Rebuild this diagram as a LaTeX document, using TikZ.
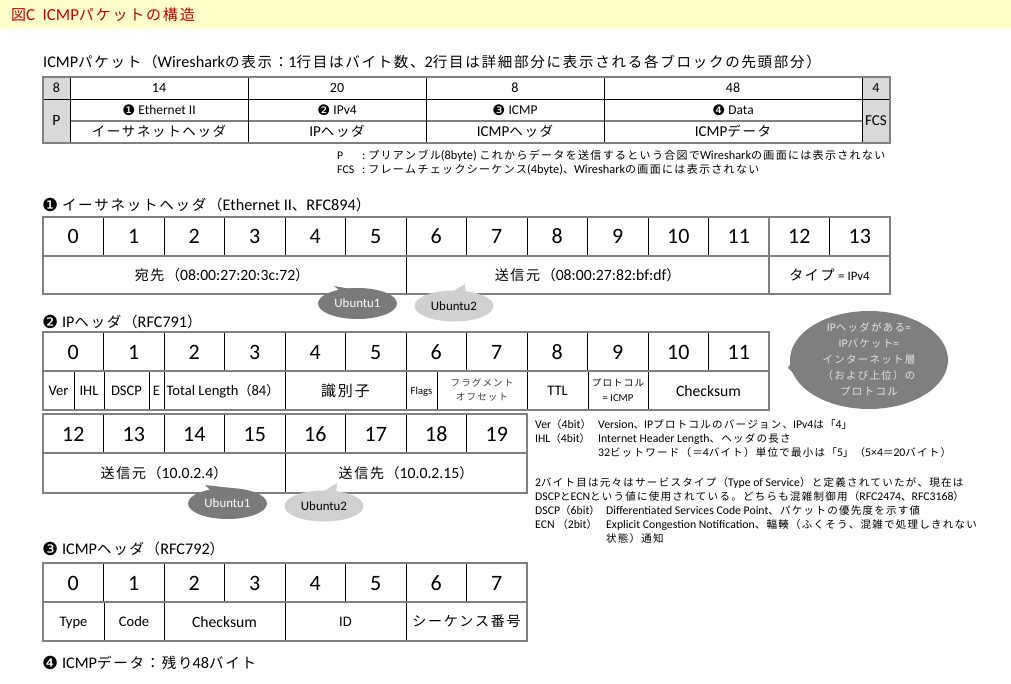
\documentclass[tikz,border=0pt]{standalone}
\usepackage{fontspec}
\usetikzlibrary{shapes.geometric}
\setmainfont[Scale=1.12]{Carlito}
\newfontfamily\cjk{Noto Sans CJK JP}
\newfontfamily\lat[Scale=1.12]{Carlito}
\newfontfamily\dv{DejaVu Sans}
\newXeTeXintercharclass\cjkcls
\newcount\mycnt
\def\setcls#1#2{\mycnt=#1 \loop\XeTeXcharclass\mycnt=\cjkcls \advance\mycnt by 1 \ifnum\mycnt<#2 \repeat}
\setcls{"3000}{"3100}
\setcls{"4E00}{"A000}
\setcls{"FF00}{"FFF0}
\def\cjktrack{0.12em}
\XeTeXinterchartoks 0 \cjkcls = {\cjk}
\XeTeXinterchartoks 4095 \cjkcls = {\cjk}
\XeTeXinterchartoks \cjkcls 0 = {\lat}
\XeTeXinterchartoks \cjkcls 4095 = {\lat}
\XeTeXinterchartoks \cjkcls \cjkcls = {\kern\cjktrack}
\XeTeXinterchartokenstate=1
\newcommand\fsz[1]{\fontsize{#1}{#1}\selectfont}
\newcommand\fszb[2]{\fontsize{#1}{#2}\selectfont}
\newcommand\cnum[2]{{\dv\fontsize{#2}{#2}\selectfont\raisebox{-0.06em}{#1}}}
\definecolor{titlebg}{HTML}{FFFFCC}
\definecolor{titlered}{HTML}{C00000}
\definecolor{cellgray}{HTML}{D9D9D9}
\definecolor{linegray}{HTML}{808080}
\definecolor{bubdark}{HTML}{7A7A7A}
\definecolor{bublight}{HTML}{D0D0D0}
\definecolor{bubbig}{HTML}{7F7F7F}
\definecolor{softtxt}{HTML}{404040}
\tikzset{
  lbl/.style={inner sep=0pt, anchor=west},
  ctr/.style={inner sep=0pt, anchor=center},
  tx/.style n args={3}{inner sep=0pt, anchor=center, font=\fsz{#1}, text height=#2pt, text depth=#3pt},
  inner/.style={draw=black, line width=0.8pt},
  grayline/.style={draw=linegray, line width=1.4pt},
  outer/.style={draw=linegray, line width=1.4pt},
  bignum/.style={tx={19.6}{14}{0}},
  head/.style={inner sep=0pt, anchor=base west, font=\fsz{14.5}},
  note/.style={lbl, font=\fsz{10.5}},
  cell/.style={tx={14}{12}{1.7}},
  lcell/.style={tx={13}{11.2}{1.6}},
  ubu/.style={ellipse, inner sep=0pt, minimum width=79pt, minimum height=31pt, font=\fsz{11.5}, text height=9.9pt, text depth=1.4pt},
}
\begin{document}
\begin{tikzpicture}[x=1pt,y=-1pt]
\useasboundingbox (0,0) rectangle (1011,684);
\fill[white] (0,0) rectangle (1011,684);
% title
\fill[titlebg] (0,0) rectangle (1011,29);
\node[lbl, text=titlered, font=\fsz{15}] (title) at (11,14.5) {図C\ \ ICMPパケットの構造};
\node[head] (sub) at (43,67.5) {ICMPパケット（Wiresharkの表示：1行目はバイト数、2行目は詳細部分に表示される各ブロックの先頭部分）};

% ---------- overview table
\fill[cellgray] (43,77) rectangle (70,143);
\fill[cellgray] (862,77) rectangle (890,143);
\draw[inner] (43,99) -- (890,99);
\draw[grayline] (70,121) -- (862,121);
\foreach \x in {70,248,426,604,862} \draw[inner] (\x,77) -- (\x,143);
\draw[outer] (43,77) rectangle (890,143);
\node[tx={12.5}{9}{0}] (o1) at (56.5,88.5) {8};
\node[tx={12.5}{9}{0}] (o2) at (159,88.5) {14};
\node[tx={12.5}{9}{0}] (o3) at (337,88.5) {20};
\node[tx={12.5}{9}{0}] (o4) at (515,88.5) {8};
\node[tx={12.5}{9}{0}] (o5) at (733,88.5) {48};
\node[tx={12.5}{9}{0}] (o6) at (876,88.5) {4};
\node[tx={12}{10.3}{1.4}] (o7) at (159,110) {\cnum{❶}{14.5} Ethernet II};
\node[tx={12}{10.3}{1.4}] (o8) at (337,110) {\cnum{❷}{14.5} IPv4};
\node[tx={12}{10.3}{1.4}] (o9) at (515,110) {\cnum{❸}{14.5} ICMP};
\node[tx={12}{10.3}{1.4}] (o10) at (733,110) {\cnum{❹}{14.5} Data};
\node[tx={13.5}{11.6}{1.6}] (o11) at (159,132) {イーサネットヘッダ};
\node[tx={13.5}{11.6}{1.6}] (o12) at (337,132) {IPヘッダ};
\node[tx={13.5}{11.6}{1.6}] (o13) at (515,132) {ICMPヘッダ};
\node[tx={13.5}{11.6}{1.6}] (o14) at (733,132) {ICMPデータ};
\node[tx={14}{10}{0}] (o15) at (56.5,121) {P};
\node[tx={13.5}{9.8}{0}] (o16) at (876,121) {FCS};
\node[lbl, font=\fsz{10.5}] (np) at (337,155.5) {P};
\node[lbl, font=\fsz{11}] (npt) at (362,155.5) {:\ プリアンブル(8byte) これからデータを送信するという合図でWiresharkの画面には表示されない};
\node[lbl, font=\fsz{10.5}] (nf) at (337,170) {FCS};
\node[lbl, font=\fsz{11}] (nft) at (362,170) {:\ フレームチェックシーケンス(4byte)、Wiresharkの画面には表示されない};

% ---------- Ethernet header
\node[head] (h1) at (42,210.5) {\cnum{❶}{18} イーサネットヘッダ（Ethernet II、RFC894）};
\foreach \k in {1,...,13} \draw[inner] (43+60.5*\k,217) -- (43+60.5*\k,256);
\draw[inner] (406,256) -- (406,294);
\draw[grayline] (769,217) -- (769,294);
\draw[grayline] (43,256) -- (890,256);
\draw[outer] (43,217) rectangle (890,294);
\foreach \k in {0,...,13} \node[bignum] (e\k) at (73.25+60.5*\k,237) {\k};
\node[cell] (edst) at (222,275) {宛先（08:00:27:20:3c:72）};
\node[cell] (esrc) at (587.5,275) {送信元（08:00:27:82:bf:df）};
\node[cell] (etyp) at (829.5,275) {タイプ {\fsz{11.5}= IPv4}};

% bubbles (ethernet)
\fill[bubdark] (334,286) -- (344,294) -- (362,291) -- cycle;
\node[ubu, fill=bubdark, text=white] (u1a) at (357.5,303.5) {Ubuntu1};
\fill[bublight] (465,284) -- (447,295) -- (466,295) -- cycle;
\node[ubu, fill=bublight, text=black] (u2a) at (454,306) {Ubuntu2};

% ---------- IP header
\node[head] (h2) at (42,327.5) {\cnum{❷}{18} IPヘッダ（RFC791）};
\foreach \k in {1,...,11} \draw[inner] (43+60.5*\k,332) -- (43+60.5*\k,371);
\foreach \x in {74,104,149,164,285,406,437,527,588,648} \draw[inner] (\x,371) -- (\x,410);
\draw[grayline] (43,371) -- (769,371);
\draw[outer] (43,332) rectangle (769,410);
\foreach \k in {0,...,11} \node[bignum] (i\k) at (73.25+60.5*\k,352) {\k};
\node[lcell] (iver) at (58.5,391) {Ver};
\node[lcell] (iihl) at (89,391) {IHL};
\node[lcell] (idscp) at (126.5,391) {DSCP};
\node[lcell] (ie) at (156.5,391) {E};
\node[tx={13}{11.2}{1.6}] (itl) at (223,391) {Total Length（84）};
\node[tx={15}{12.9}{1.8}] (iid) at (345.5,391) {識別子};
\node[tx={9.5}{8.2}{1.1}] (ifl) at (421.5,391) {Flags};
\node[ctr, font=\fszb{9.5}{14}, align=center, text=softtxt] (ifo) at (482,390) {フラグメント\\オフセット};
\node[lcell] (ittl) at (557.5,391) {TTL};
\node[ctr, font=\fszb{9.5}{15}, align=center] (ipr) at (618,390) {プロトコル\\= ICMP};
\node[cell] (ick) at (708.5,391) {Checksum};

\foreach \k in {1,...,7} \draw[inner] (43+60.5*\k,414) -- (43+60.5*\k,453);
\draw[inner] (285,453) -- (285,493);
\draw[grayline] (43,453) -- (527,453);
\draw[outer] (43,414) rectangle (527,493);
\foreach \k in {12,...,19} \node[bignum] (j\k) at (73.25+60.5*\k-726,434) {\k};
\node[cell] (isrc) at (164,473) {送信元（10.0.2.4）};
\node[cell] (idst) at (406,473) {送信先（10.0.2.15）};

% bubbles (ip)
\fill[bubdark] (205,485) -- (214,494) -- (232,488) -- cycle;
\node[ubu, fill=bubdark, text=white] (u1b) at (227.5,503.5) {Ubuntu1};
\fill[bublight] (337,483) -- (318,495) -- (336,495) -- cycle;
\node[ubu, fill=bublight, text=black] (u2b) at (324,506) {Ubuntu2};

% big bubble
\fill[bubbig] (788,368) -- (802,344) -- (806,386) -- cycle;
\node[ellipse, fill=bubbig, inner sep=0pt, minimum width=158pt, minimum height=98pt] (big) at (869,360) {};
\node[ctr, font=\fszb{10.5}{16}, align=center, text=white!90!black] (bigt) at (869,359) {IPヘッダがある=\\IPパケット=\\インターネット層\\（および上位）の\\プロトコル};

% notes
\node[note] (n1a) at (535,425) {Ver（4bit）};
\node[note] (n1b) at (598,425) {Version、IPプロトコルのバージョン、IPv4は「4」};
\node[note] (n2a) at (535,439) {IHL（4bit）};
\node[note] (n2b) at (598,439) {Internet Header Length、ヘッダの長さ};
\node[note] (n3b) at (598,453) {32ビットワード（＝4バイト）単位で最小は「5」（5×4＝20バイト）};
\node[note] (n4) at (535,483) {2バイト目は元々はサービスタイプ（Type of Service）と定義されていたが、現在は};
\node[note] (n5) at (535,497) {DSCPとECNという値に使用されている。どちらも混雑制御用（RFC2474、RFC3168）};
\node[note] (n6a) at (535,511) {DSCP（6bit）};
\node[note] (n6b) at (606,511) {Differentiated Services Code Point、パケットの優先度を示す値};
\node[note] (n7a) at (535,525) {ECN （2bit）};
\node[note] (n7b) at (606,525) {Explicit Congestion Notification、輻輳（ふくそう、混雑で処理しきれない};
\node[note] (n8b) at (606,539) {状態）通知};

% ---------- ICMP header
\node[head] (h3) at (42,554.5) {\cnum{❸}{18} ICMPヘッダ（RFC792）};
\foreach \k in {1,...,7} \draw[inner] (43+60.5*\k,563) -- (43+60.5*\k,602);
\foreach \x in {104,164,285,406} \draw[inner] (\x,602) -- (\x,641);
\draw[grayline] (43,602) -- (527,602);
\draw[outer] (43,563) rectangle (527,641);
\foreach \k in {0,...,7} \node[bignum] (c\k) at (73.25+60.5*\k,583) {\k};
\node[lcell] (ctype) at (73.5,622) {Type};
\node[lcell] (ccode) at (134,622) {Code};
\node[cell] (cck) at (224.5,622) {Checksum};
\node[lcell] (cid) at (345.5,622) {ID};
\node[cell] (cseq) at (466.5,621) {シーケンス番号};

\node[head] (h4) at (42,668.5) {\cnum{❹}{18} ICMPデータ：残り48バイト};
\end{tikzpicture}
\end{document}
